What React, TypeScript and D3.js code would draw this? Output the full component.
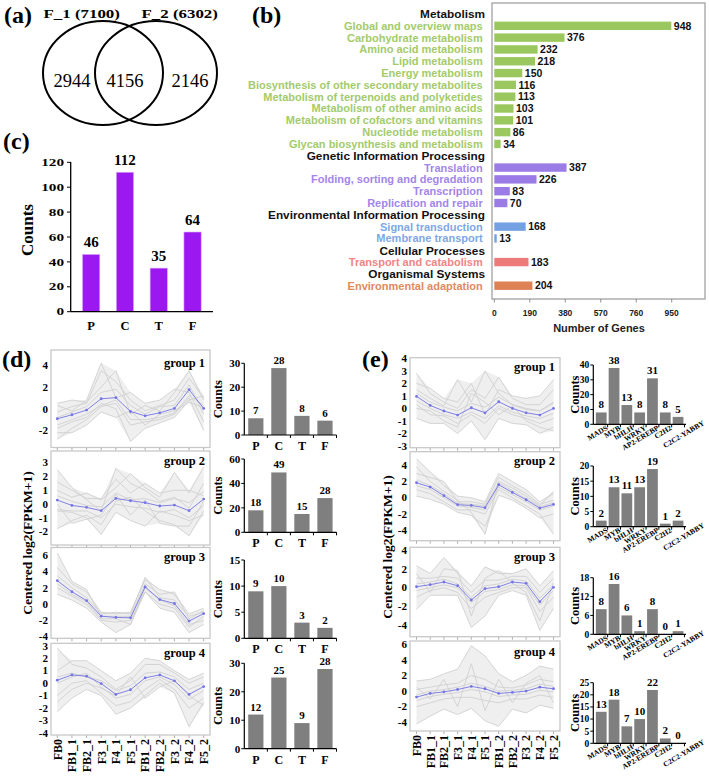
import React from 'react';
import * as d3 from 'd3';

const SERIF = '"Liberation Serif","Times New Roman",Times,serif';
const SANS = '"Liberation Sans",Arial,Helvetica,sans-serif';

// ---------- (a) Venn ----------
const vennSets = ['F_1 (7100)', 'F_2 (6302)'];
const vennRegionCounts = [2944, 4156, 2146];

// ---------- (c) tissue counts ----------
const tissueCategories = ['P', 'C', 'T', 'F'];
const tissueCounts = [46, 112, 35, 64];
const tissueTicks = [0, 20, 40, 60, 80, 100, 120];

// ---------- (b) KEGG ----------
const keggGroups = [
  'Metabolism',
  'Genetic Information Processing',
  'Environmental Information Processing',
  'Cellular Processes',
  'Organismal Systems',
];
const keggPathways = [
  'Global and overview maps',
  'Carbohydrate metabolism',
  'Amino acid metabolism',
  'Lipid metabolism',
  'Energy metabolism',
  'Biosynthesis of other secondary metabolites',
  'Metabolism of terpenoids and polyketides',
  'Metabolism of other amino acids',
  'Metabolism of cofactors and vitamins',
  'Nucleotide metabolism',
  'Glycan biosynthesis and metabolism',
  'Translation',
  'Folding, sorting and degradation',
  'Transcription',
  'Replication and repair',
  'Signal transduction',
  'Membrane transport',
  'Transport and catabolism',
  'Environmental adaptation',
];
const keggCounts = [948, 376, 232, 218, 150, 116, 113, 103, 101, 86, 34, 387, 226, 83, 70, 168, 13, 183, 204];
const keggGroupIndex = [0, 0, 0, 0, 0, 0, 0, 0, 0, 0, 0, 1, 1, 1, 1, 2, 2, 3, 4];
const keggBarColors = ['#9bc85e', '#9b7be6', '#74a0e4', '#ee7b7b', '#de8155'];
const keggTextColors = ['#a3cb6c', '#a386e9', '#7ea7e6', '#ef8585', '#df8a5f'];
const keggTicks = [0, 190, 380, 570, 760, 950];

// ---------- (d)/(e) expression profiles ----------
const timePoints = ['FB0', 'FB1_1', 'FB2_1', 'F3_1', 'F4_1', 'F5_1', 'FB1_2', 'FB2_2', 'F3_2', 'F4_2', 'F5_2'];

const dMean1 = [-0.92, -0.55, -0.12, 0.92, 1.02, -0.25, -0.65, -0.37, 0.03, 1.75, 0.03];
const dGenes1 = [
  [-0.3, 0.2, 0.5, 3.5, 2.5, 0.8, -0.2, 0.3, 0.8, 2.8, 1.0],
  [-2.8, -1.8, -1.0, 0.2, 0.5, -1.5, -1.2, -1.0, -0.5, 1.0, -2.0],
  [0.5, 0.8, 0.6, 2.0, 3.5, -0.5, 0.3, -0.2, 1.5, 3.5, 0.8],
  [-1.8, -1.2, -0.8, 0.5, 0.0, -3.0, -1.8, -1.3, -0.8, 0.8, 1.2],
  [-0.8, -0.3, 0.2, 1.5, 1.8, 0.3, -0.5, 0.2, 0.3, 2.2, -0.5],
  [-1.5, -1.0, -0.5, 0.3, 0.8, -1.0, -1.0, -0.8, -0.4, 1.2, 0.3],
  [0.3, -0.2, 0.8, 4.2, 1.0, 1.5, 0.5, 0.8, 1.8, 1.5, -1.2],
  [-2.2, -2.2, -1.5, -0.3, -0.8, -0.2, -1.5, -0.5, -0.2, 0.6, 0.1],
];
const dMean2 = [0.29, -0.1, -0.24, -0.48, 0.41, 0.24, 0.1, -0.14, -0.07, -0.48, 0.36];
const dGenes2 = [
  [2.5, 1.2, 0.3, -0.5, 2.6, 1.5, 1.0, 0.2, 0.5, -0.3, 1.5],
  [-1.8, -1.2, -0.8, -1.5, 0.2, 0.5, -0.5, -1.2, -1.5, -2.3, -0.5],
  [1.0, 0.5, 0.8, 0.3, 1.2, 2.2, 1.2, 0.5, 2.3, 0.8, 2.7],
  [-0.5, -0.6, -1.0, -2.2, -0.6, -1.2, -1.6, -0.5, -0.8, -1.2, -0.8],
  [0.6, 0.2, -0.1, -0.2, 0.8, 0.3, 0.4, 0.1, 0.4, 0.1, 0.9],
  [-0.4, -0.5, -0.5, -1.0, 0.0, -0.2, -0.3, -0.6, -0.4, -1.0, -0.1],
  [1.6, 1.0, 0.4, 0.4, 1.8, 0.8, 1.5, 0.8, 1.0, 1.0, 0.6],
  [0.0, -1.4, -1.1, -0.8, 0.7, -0.8, 0.3, -1.4, -1.6, -1.6, 0.2],
];
const dMean3 = [2.88, 1.52, 0.44, -1.48, -1.64, -1.68, 2.12, 0.56, 0.08, -2.08, -1.16];
const dGenes3 = [
  [4.5, 2.5, 1.5, -1.0, -1.2, -1.0, 3.0, 1.8, 1.2, -1.2, -0.5],
  [1.2, 0.5, -0.5, -2.2, -3.5, -2.5, 1.5, -0.5, -1.0, -3.5, -2.5],
  [6.3, 2.8, 1.8, -1.5, -1.5, -1.5, 2.5, 1.2, 1.5, -1.8, -0.8],
  [2.0, 1.0, 0.0, -2.0, -2.2, -2.0, 1.5, 0.0, -0.5, -2.8, -1.5],
  [3.5, 2.0, 0.8, -1.2, -1.0, -1.2, 3.3, 0.8, 0.5, -1.5, -1.0],
  [2.5, 1.2, 0.3, -1.8, -1.8, -2.5, 2.0, 0.5, -0.2, -2.5, -2.0],
];
const dMean4 = [0.24, 0.66, 0.56, -0.03, -0.9, -0.53, 0.43, 0.66, 0.19, -0.9, -0.27];
const dGenes4 = [
  [2.8, 1.5, 1.2, 0.5, -0.5, 0.2, 1.5, 1.5, 0.8, 0.0, 0.5],
  [-2.3, -1.2, -0.5, -1.0, -2.5, -2.0, -1.0, 0.0, -0.8, -3.5, -1.5],
  [1.0, 1.8, 1.8, 1.0, 0.2, 0.8, 2.0, 1.8, 1.0, 0.3, 0.8],
  [-1.0, 0.0, 0.2, -0.8, -1.8, -1.5, -0.5, 0.3, -0.5, -2.0, -1.2],
  [0.5, 0.8, 0.5, 0.2, -0.6, -0.2, 0.8, 0.9, 0.5, -0.5, 0.0],
  [0.0, 0.5, 0.8, -0.3, -1.2, -0.9, 0.2, 0.5, -0.1, -1.3, -0.6],
  [-1.5, -0.5, 0.0, -0.4, -1.0, 0.5, -1.2, -0.3, 0.2, -1.0, -1.8],
];

const eMean1 = [0.96, 0.24, -0.21, -0.53, 0.05, -0.35, 0.53, 0.0, -0.35, -0.53, 0.0];
const eGenes1 = [
  [2.8, 1.2, 0.5, 0.0, 1.5, 0.8, 2.5, 0.8, 0.3, 0.3, 1.5],
  [-0.8, -1.2, -1.2, -2.0, -1.0, -2.5, -0.8, -1.2, -1.3, -2.0, -1.5],
  [1.5, 0.8, 0.2, 2.3, 0.5, 3.0, 1.2, 0.3, 0.0, -0.2, 0.5],
  [0.3, -0.5, -0.6, -1.2, -0.5, -1.2, 0.0, -0.5, -0.8, -1.2, -0.8],
  [1.2, 0.5, 0.1, -0.2, 0.4, 0.1, 0.9, 0.3, -0.1, -0.2, 0.4],
  [0.6, 0.0, -0.5, -0.8, -0.3, -0.8, 0.2, -0.3, -0.6, -0.8, -0.4],
  [2.0, 1.6, 0.8, 0.5, 2.0, -0.5, 1.5, 1.0, 0.8, 1.0, 2.3],
  [0.0, -0.2, -1.0, -1.5, 1.2, 0.5, -0.5, 0.2, -1.0, -1.5, -1.8],
];
const eMean2 = [1.85, 1.32, 0.25, -0.86, -0.95, -1.23, 1.6, 0.66, -0.25, -1.28, -0.82];
const eGenes2 = [
  [4.8, 3.2, 1.5, 0.2, 0.0, -0.5, 3.0, 2.0, 1.0, -0.5, 0.5],
  [0.2, -0.2, -0.8, -1.8, -2.2, -3.5, 0.3, -0.3, -1.3, -2.5, -2.0],
  [3.0, 2.5, 2.0, -0.5, -0.5, -0.8, 2.5, 1.5, 0.5, -0.8, -0.3],
  [1.0, 0.5, -0.5, -1.5, -1.5, -2.0, 1.0, 0.0, -1.0, -2.0, -4.5],
  [2.2, 1.5, 0.5, -0.7, -0.8, -1.0, 1.8, 0.9, -0.1, -1.1, -0.6],
  [1.5, 1.0, 0.0, -1.0, -1.2, -1.5, 1.3, 0.4, -0.5, -1.5, -1.0],
  [3.8, 2.0, 0.8, -0.3, -1.8, -4.5, 2.0, 1.2, 0.2, -1.0, 0.8],
];
const eMean3 = [0.1, 0.32, 0.6, 0.21, -1.3, -0.1, 0.1, 0.6, 0.46, -1.48, 0.04];
const eGenes3 = [
  [2.3, 1.5, 3.2, 1.5, 0.2, 2.2, 1.5, 1.5, 2.0, 0.2, 1.8],
  [-2.3, -0.8, -0.8, -0.8, -4.2, -3.0, -0.8, -0.3, -0.8, -4.5, -2.2],
  [1.0, 1.0, 1.2, 1.0, -0.5, 0.8, 0.8, 1.2, 1.2, -0.5, 1.0],
  [-1.0, -0.3, 0.0, -0.5, -2.2, -1.0, -0.5, 0.0, 0.0, -2.5, -1.0],
  [0.4, 0.6, 0.9, 0.4, -1.0, 0.2, 0.4, 0.9, 0.7, -1.1, 0.3],
  [-0.3, 0.0, 0.3, 0.0, -1.6, -0.4, -0.2, 0.3, 0.2, -1.8, -0.3],
  [1.5, -0.5, 2.0, 1.8, -3.0, 1.0, 1.8, 0.5, -0.5, -3.5, 0.5],
];
const eMean4 = [-0.77, -0.3, -0.1, 0.2, 0.6, 0.3, -0.3, -0.17, 0.0, 0.5, 0.3];
const eGenes4 = [
  [1.3, 1.5, 2.2, 2.8, 5.8, 4.5, 2.2, 1.2, 2.0, 3.2, 2.8],
  [-4.2, -3.2, -2.3, -3.0, -2.2, -3.8, -4.5, -2.3, -2.8, -1.8, -2.2],
  [0.2, 0.5, 0.8, 1.0, 2.0, 1.5, 0.5, 0.4, 0.8, 1.5, 1.2],
  [-2.0, -1.5, -1.0, -0.8, -0.8, -1.2, -1.5, -1.0, -1.0, -0.5, -0.8],
  [-0.5, 0.0, 0.2, 0.5, 1.0, 0.6, 0.0, 0.1, 0.3, 0.9, 0.6],
  [-1.2, -0.7, -0.4, -0.2, 0.2, -0.1, -0.7, -0.5, -0.4, 0.1, -0.1],
  [0.5, -1.0, 1.5, -2.0, 3.5, -2.5, 1.5, -1.5, 1.0, 2.0, -1.5],
];

const dTicks1 = [-2, 0, 2, 4];
const dTicks2 = [-2, -1, 0, 1, 2, 3];
const dTicks3 = [-4, -2, 0, 2, 4, 6];
const dTicks4 = [-4, -3, -2, -1, 0, 1, 2, 3];
const eTicks1 = [-3, -2, -1, 0, 1, 2, 3, 4];
const eTicks2 = [-4, -2, 0, 2, 4];
const eTicks3 = [-4, -2, 0, 2, 4];
const eTicks4 = [-4, -2, 0, 2, 4, 6];

// (d) tissue counts per group
const dCounts1 = [7, 28, 8, 6];
const dCounts2 = [18, 49, 15, 28];
const dCounts3 = [9, 10, 3, 2];
const dCounts4 = [12, 25, 9, 28];
const dCountTicks1 = [0, 10, 20, 30];
const dCountTicks2 = [0, 20, 40, 60];
const dCountTicks3 = [0, 5, 10, 15];
const dCountTicks4 = [0, 10, 20, 30];

// (e) TF family counts per group
const tfFamilies = ['MADS', 'MYB', 'bHLH', 'WRKY', 'AP2-EREBP', 'C2H2', 'C2C2-YABBY'];
const eCounts1 = [8, 38, 13, 8, 31, 8, 5];
const eCounts2 = [2, 13, 11, 13, 19, 1, 2];
const eCounts3 = [8, 16, 6, 1, 8, 0, 1];
const eCounts4 = [13, 18, 7, 10, 22, 2, 0];
const eCountTicks1 = [0, 10, 20, 30, 40];
const eCountTicks2 = [0, 5, 10, 15, 20];
const eCountTicks3 = [0, 6, 12, 18];
const eCountTicks4 = [0, 5, 10, 15, 20, 25];

type LinePanelProps = {
  id: string; x0: number; x1: number; y0: number; y1: number; pad: number;
  domain: [number, number]; ticks: number[]; mean: number[]; genes: number[][];
  label: string; labelDy: number; xLabels?: boolean;
};

function LinePanel(p: LinePanelProps) {
  const x = d3.scalePoint<string>().domain(timePoints).range([p.x0 + p.pad, p.x1 - p.pad]);
  const y = d3.scaleLinear().domain(p.domain).range([p.y1, p.y0]);
  const line = d3.line<number>().x((_, i) => x(timePoints[i]) as number).y((v) => y(v));
  const all = [...p.genes, p.mean];
  const lo = timePoints.map((_, i) => d3.min(all, (g) => g[i]) as number);
  const hi = timePoints.map((_, i) => d3.max(all, (g) => g[i]) as number);
  const area = d3
    .area<number>()
    .x((_, i) => x(timePoints[i]) as number)
    .y0((_, i) => y(lo[i]))
    .y1((_, i) => y(hi[i]));
  return (
    <g>
      <defs>
        <clipPath id={p.id}>
          <rect x={p.x0} y={p.y0} width={p.x1 - p.x0} height={p.y1 - p.y0} />
        </clipPath>
      </defs>
      <rect x={p.x0} y={p.y0} width={p.x1 - p.x0} height={p.y1 - p.y0} fill="#fff" stroke="#c8c8c8" strokeWidth={1.3} />
      <g clipPath={`url(#${p.id})`}>
        <path d={area(lo) || ''} fill="#efefef" />
        {p.genes.map((g, i) => (
          <path key={i} d={line(g) || ''} fill="none" stroke="#d0d0d0" strokeWidth={0.9} />
        ))}
      </g>
      <path d={line(p.mean) || ''} fill="none" stroke="#7474e4" strokeWidth={0.9} />
      {p.mean.map((v, i) => (
        <circle key={i} cx={x(timePoints[i])} cy={y(v)} r={1.4} fill="#7474e4" />
      ))}
      {p.ticks.map((t) => (
        <text key={t} x={p.x0 - 3} y={y(t)} dy="0.34em" textAnchor="end" fontFamily={SERIF} fontWeight="bold" fontSize={11}>
          {t}
        </text>
      ))}
      {timePoints.map((tp) => (
        <line key={tp} x1={x(tp)} x2={x(tp)} y1={p.y1 + 0.5} y2={p.y1 + 3} stroke="#999" strokeWidth={0.8} />
      ))}
      <text x={p.x1 - 5} y={p.y0 + p.labelDy} textAnchor="end" fontFamily={SERIF} fontWeight="bold" fontSize={12.5}>
        {p.label}
      </text>
      {p.xLabels &&
        timePoints.map((tp) => (
          <text key={tp} transform={`translate(${x(tp)},${p.y1 + 4}) rotate(-90)`} dy="0.36em" textAnchor="end"
            fontFamily={SERIF} fontWeight="bold" fontSize={12}>
            {tp}
          </text>
        ))}
    </g>
  );
}

type BarPanelProps = {
  axisX: number; xEnd: number; zeroY: number; topY: number; max: number; ticks: number[];
  cats: string[]; values: number[]; pInner: number; pOuter: number; rotated?: boolean;
  tickSize: number; valueSize: number; titleX: number;
};

function BarPanel(p: BarPanelProps) {
  const x = d3.scaleBand<string>().domain(p.cats).range([p.axisX, p.xEnd]).paddingInner(p.pInner).paddingOuter(p.pOuter);
  const y = d3.scaleLinear().domain([0, p.max]).range([p.zeroY, p.topY]);
  const step = x.step();
  const start = (x(p.cats[0]) as number) - (step * p.pInner) / 2;
  return (
    <g>
      {p.cats.map((c, i) => (
        <rect key={c} x={x(c)} y={y(p.values[i])} width={x.bandwidth()} height={p.zeroY - y(p.values[i])} fill="#7f7f7f" />
      ))}
      <line x1={p.axisX} x2={p.axisX} y1={p.topY} y2={p.zeroY} stroke="#000" strokeWidth={1.2} />
      <line x1={p.axisX} x2={p.xEnd} y1={p.zeroY} y2={p.zeroY} stroke="#000" strokeWidth={1.2} />
      {p.ticks.map((t) => (
        <g key={t}>
          <line x1={p.axisX - 3} x2={p.axisX} y1={y(t)} y2={y(t)} stroke="#000" strokeWidth={1} />
          <text x={p.axisX - 4} y={y(t)} dy="0.35em" textAnchor="end" fontFamily={SERIF} fontWeight="bold" fontSize={p.tickSize}>
            {t}
          </text>
        </g>
      ))}
      {p.cats.map((c, i) => (
        <line key={'t' + c} x1={start + step * (i + 1)} x2={start + step * (i + 1)} y1={p.zeroY} y2={p.zeroY + 3} stroke="#000" strokeWidth={1} />
      ))}
      {p.cats.map((c, i) => (
        <text key={'v' + c} x={(x(c) as number) + x.bandwidth() / 2} y={y(p.values[i]) - 4} textAnchor="middle"
          fontFamily={SERIF} fontWeight="bold" fontSize={p.valueSize}>
          {p.values[i]}
        </text>
      ))}
      {p.cats.map((c, i) => {
        const cx = (x(c) as number) + x.bandwidth() / 2;
        if (p.rotated) {
          const last = i === p.cats.length - 1;
          const tx = last ? cx - 13 : cx + 7;
          const ty = last ? p.zeroY + 24 : p.zeroY + 5;
          return (
            <text key={'c' + c}
              transform={`translate(${tx},${ty}) rotate(-31)`}
              textAnchor={last ? 'start' : 'end'} fontFamily={SERIF} fontWeight="bold" fontSize={7.5}>
              {c}
            </text>
          );
        }
        return (
          <text key={'c' + c} x={cx} y={p.zeroY + 15} textAnchor="middle"
            fontFamily={SERIF} fontWeight="bold" fontSize={12}>
            {c}
          </text>
        );
      })}
      <text transform={`translate(${p.titleX},${(p.topY + p.zeroY) / 2}) rotate(-90)`} textAnchor="middle" dy="0.35em"
        fontFamily={SERIF} fontWeight="bold" fontSize={12.5}>
        Counts
      </text>
    </g>
  );
}

function Venn() {
  const cx = d3.scaleLinear().domain([0, 1]).range([103, 156]);
  const labelX = d3.scaleLinear().domain([0, 1, 2]).range([72, 125, 190]);
  return (
    <g>
      <ellipse cx={cx(0)} cy={73} rx={60} ry={52} fill="none" stroke="#000" strokeWidth={2} />
      <ellipse cx={cx(1)} cy={73} rx={61} ry={52} fill="none" stroke="#000" strokeWidth={2} />
      {vennSets.map((s, i) => (
        <text key={s} transform={`translate(${[43.5, 141.5][i]},18) scale(1.3,1)`} fontFamily={SERIF} fontWeight="bold" fontSize={13}>
          {s}
        </text>
      ))}
      {vennRegionCounts.map((v, i) => (
        <text key={i} x={labelX(i)} y={87} textAnchor="middle" fontFamily={SERIF} fontSize={18.5}>
          {v}
        </text>
      ))}
    </g>
  );
}

function PanelC() {
  const x = d3.scaleBand<string>().domain(tissueCategories).range([70.7, 213]).paddingInner(0.49).paddingOuter(0.35);
  const y = d3.scaleLinear().domain([0, 120]).range([311.7, 162.3]);
  return (
    <g>
      {tissueCategories.map((c, i) => (
        <rect key={c} x={x(c)} y={y(tissueCounts[i])} width={x.bandwidth()} height={y(0) - y(tissueCounts[i])} fill="#9b19f0" stroke="#d9a8f5" strokeWidth={0.6} />
      ))}
      <line x1={70.7} x2={70.7} y1={162} y2={311.7} stroke="#000" strokeWidth={1.3} />
      <line x1={70.7} x2={213} y1={311.7} y2={311.7} stroke="#000" strokeWidth={1.3} />
      {tissueTicks.map((t) => (
        <g key={t}>
          <line x1={67} x2={70.7} y1={y(t)} y2={y(t)} stroke="#000" strokeWidth={1} />
          <text transform={`translate(64,${y(t)}) scale(1.45,1)`} dy="0.35em" textAnchor="end" fontFamily={SERIF} fontWeight="bold" fontSize={10.5}>
            {t}
          </text>
        </g>
      ))}
      {tissueCategories.map((c, i) => (
        <text key={'v' + c} x={(x(c) as number) + x.bandwidth() / 2} y={y(tissueCounts[i]) - 7} textAnchor="middle" fontFamily={SERIF} fontWeight="bold" fontSize={15}>
          {tissueCounts[i]}
        </text>
      ))}
      {tissueCategories.map((c) => (
        <text key={'c' + c} x={(x(c) as number) + x.bandwidth() / 2} y={330} textAnchor="middle" fontFamily={SERIF} fontWeight="bold" fontSize={12.5}>
          {c}
        </text>
      ))}
      <text transform="translate(27,230) rotate(-90)" textAnchor="middle" dy="0.35em" fontFamily={SERIF} fontWeight="bold" fontSize={17}>
        Counts
      </text>
    </g>
  );
}

function PanelB() {
  type Row = { label: string; value: number | null; g: number };
  const rows: Row[] = [];
  keggGroups.forEach((g, gi) => {
    rows.push({ label: g, value: null, g: gi });
    keggPathways.forEach((p, pi) => {
      if (keggGroupIndex[pi] === gi) rows.push({ label: p, value: keggCounts[pi], g: gi });
    });
  });
  const yRow = d3.scalePoint<number>().domain(d3.range(rows.length)).range([14, 285.7]);
  const x = d3.scaleLinear().domain([0, 950]).range([494.3, 671.7]);
  return (
    <g>
      <rect x={492} y={3} width={213} height={296} fill="none" stroke="#9a9a9a" strokeWidth={1.2} />
      {rows.map((r, i) => {
        const yy = yRow(i) as number;
        if (r.value === null) {
          return (
            <text key={i} x={485} y={yy} dy="0.36em" textAnchor="end" fontFamily={SANS} fontWeight="bold" fontSize={11.8} fill="#111">
              {r.label}
            </text>
          );
        }
        return (
          <g key={i}>
            <text x={482.7} y={yy} dy="0.36em" textAnchor="end" fontFamily={SANS} fontWeight="bold" fontSize={11} fill={keggTextColors[r.g]}>
              {r.label}
            </text>
            <rect x={x(0)} y={yy - 4.2} width={x(r.value) - x(0)} height={8.4} fill={keggBarColors[r.g]} />
            <text x={x(r.value) + 2.5} y={yy} dy="0.36em" fontFamily={SANS} fontWeight="bold" fontSize={10.5} fill="#111">
              {r.value}
            </text>
          </g>
        );
      })}
      {keggTicks.map((t) => (
        <g key={t}>
          <line x1={x(t)} x2={x(t)} y1={299} y2={302.5} stroke="#777" strokeWidth={0.8} />
          <text x={x(t)} y={316} textAnchor="middle" fontFamily={SANS} fontWeight="bold" fontSize={8.5} fill="#222">
            {t}
          </text>
        </g>
      ))}
      <text x={599} y={332} textAnchor="middle" fontFamily={SANS} fontWeight="bold" fontSize={11} fill="#222">
        Number of Genes
      </text>
    </g>
  );
}

export default function App() {
  const panelLetter = (t: string, x: number, y: number) => (
    <text x={x} y={y} fontFamily={SERIF} fontWeight="bold" fontSize={24}>
      {t}
    </text>
  );
  return (
    <svg width={709} height={783} style={{ position: 'absolute', left: 0, top: 0, background: '#fff' }}>
      <rect x={0} y={0} width={709} height={783} fill="#fff" />
      {panelLetter('(a)', 4, 23)}
      {panelLetter('(b)', 252, 23)}
      {panelLetter('(c)', 3, 149)}
      {panelLetter('(d)', 2, 367)}
      {panelLetter('(e)', 362, 367)}
      <Venn />
      <PanelC />
      <PanelB />

      {/* (d) line panels */}
      <LinePanel id="d1" x0={51} x1={210} y0={350} y1={447.5} pad={6.3} domain={[-3.56, 5.4]} ticks={dTicks1} mean={dMean1} genes={dGenes1} label="group 1" labelDy={17} />
      <LinePanel id="d2" x0={51} x1={210} y0={451} y1={545} pad={6.3} domain={[-2.97, 3.85]} ticks={dTicks2} mean={dMean2} genes={dGenes2} label="group 2" labelDy={13.5} />
      <LinePanel id="d3" x0={51} x1={210} y0={547.5} y1={638.3} pad={6.3} domain={[-4.2, 6.96]} ticks={dTicks3} mean={dMean3} genes={dGenes3} label="group 3" labelDy={13.5} />
      <LinePanel id="d4" x0={51} x1={210} y0={643.3} y1={735} pad={6.3} domain={[-4.16, 3.2]} ticks={dTicks4} mean={dMean4} genes={dGenes4} label="group 4" labelDy={13.5} xLabels />
      <text transform="translate(27,543) rotate(-90)" textAnchor="middle" dy="0.35em" fontFamily={SERIF} fontWeight="bold" fontSize={13.5}>
        Centered log2(FPKM+1)
      </text>

      {/* (d) bar panels */}
      <BarPanel axisX={244.3} xEnd={336.5} zeroY={435} topY={363.3} max={30} ticks={dCountTicks1} cats={tissueCategories} values={dCounts1} pInner={0.34} pOuter={0.17} tickSize={11} valueSize={11} titleX={218} />
      <BarPanel axisX={244.3} xEnd={336.5} zeroY={532.3} topY={459} max={60} ticks={dCountTicks2} cats={tissueCategories} values={dCounts2} pInner={0.34} pOuter={0.17} tickSize={11} valueSize={11} titleX={218} />
      <BarPanel axisX={244.3} xEnd={336.5} zeroY={638.3} topY={560} max={15} ticks={dCountTicks3} cats={tissueCategories} values={dCounts3} pInner={0.34} pOuter={0.17} tickSize={11} valueSize={11} titleX={218} />
      <BarPanel axisX={244.3} xEnd={336.5} zeroY={748.7} topY={663.3} max={30} ticks={dCountTicks4} cats={tissueCategories} values={dCounts4} pInner={0.34} pOuter={0.17} tickSize={11} valueSize={11} titleX={218} />

      {/* (e) line panels */}
      <LinePanel id="e1" x0={410} x1={560} y0={357.7} y1={447.7} pad={6.5} domain={[-3.14, 4.05]} ticks={eTicks1} mean={eMean1} genes={eGenes1} label="group 1" labelDy={13} />
      <LinePanel id="e2" x0={410} x1={560} y0={451.7} y1={540.7} pad={6.5} domain={[-5.3, 5.68]} ticks={eTicks2} mean={eMean2} genes={eGenes2} label="group 2" labelDy={13} />
      <LinePanel id="e3" x0={410} x1={560} y0={547.3} y1={636.7} pad={6.5} domain={[-5.18, 4.27]} ticks={eTicks3} mean={eMean3} genes={eGenes3} label="group 3" labelDy={13.5} />
      <LinePanel id="e4" x0={410} x1={560} y0={641} y1={731} pad={6.5} domain={[-5.1, 6.4]} ticks={eTicks4} mean={eMean4} genes={eGenes4} label="group 4" labelDy={15} xLabels />
      <text transform="translate(387,547) rotate(-90)" textAnchor="middle" dy="0.35em" fontFamily={SERIF} fontWeight="bold" fontSize={13.5}>
        Centered log2(FPKM+1)
      </text>

      {/* (e) bar panels */}
      <BarPanel axisX={593.3} xEnd={686} zeroY={424.3} topY={365} max={40} ticks={eCountTicks1} cats={tfFamilies} values={eCounts1} pInner={0.16} pOuter={0.2} rotated tickSize={9.5} valueSize={11} titleX={575} />
      <BarPanel axisX={593.3} xEnd={686} zeroY={526.7} topY={466} max={20} ticks={eCountTicks2} cats={tfFamilies} values={eCounts2} pInner={0.16} pOuter={0.2} rotated tickSize={9.5} valueSize={11} titleX={575} />
      <BarPanel axisX={593.3} xEnd={686} zeroY={634.3} topY={577.7} max={18} ticks={eCountTicks3} cats={tfFamilies} values={eCounts3} pInner={0.16} pOuter={0.2} rotated tickSize={9.5} valueSize={11} titleX={575} />
      <BarPanel axisX={593.3} xEnd={686} zeroY={743.3} topY={682.7} max={25} ticks={eCountTicks4} cats={tfFamilies} values={eCounts4} pInner={0.16} pOuter={0.2} rotated tickSize={9.5} valueSize={11} titleX={575} />
    </svg>
  );
}
